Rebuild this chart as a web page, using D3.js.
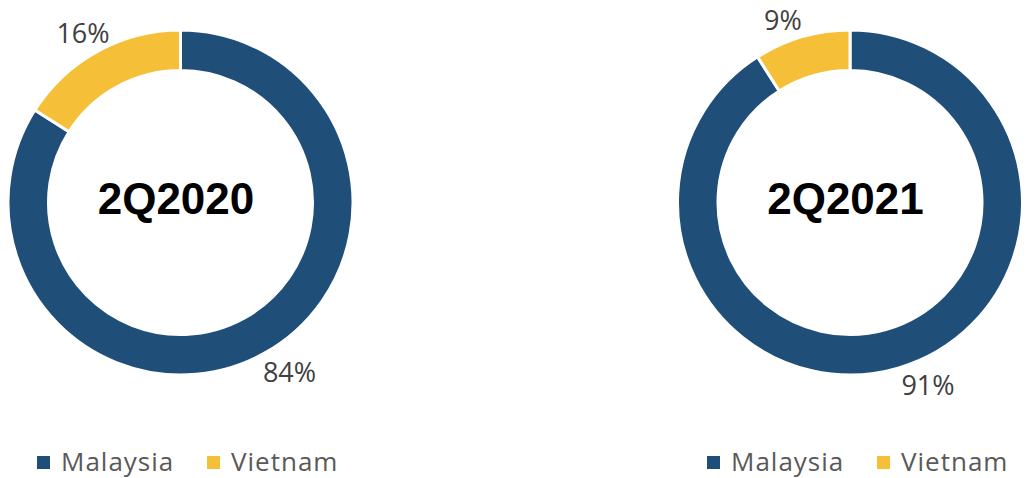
<!DOCTYPE html>
<html><head><meta charset="utf-8">
<script src="https://cdn.jsdelivr.net/npm/d3@7"></script>
<style>body{margin:0;background:#fff}svg{display:block}</style>
</head><body>
<svg id="c" width="1026" height="478"></svg>
<script>
const categories = ["Malaysia", "Vietnam"];
const periods = ["2Q2020", "2Q2021"];
const values2020 = [84, 16];
const values2021 = [91, 9];
const colors = ["#1F4E79", "#F6BF38"];

const svg = d3.select("#c");
const color = d3.scaleOrdinal().domain(categories).range(colors);
const pie = d3.pie().sort(null).value(d => d.v);
const arc = d3.arc().innerRadius(132).outerRadius(172.5);

const charts = [
  {title: periods[0], values: values2020, cx: 180.5, cy: 202.5, tx: 176,
   labels: [[289.5, 371.5], [83, 32]], legendX: 37},
  {title: periods[1], values: values2021, cx: 850, cy: 202.5, tx: 845.5,
   labels: [[928, 384.5], [783, 19.5]], legendX: 707}
];

charts.forEach(c => {
  const g = svg.append("g").attr("transform", `translate(${c.cx},${c.cy})`);
  const data = pie(categories.map((k, i) => ({k, v: c.values[i]})));
  g.selectAll("path").data(data).join("path")
    .attr("d", arc).attr("fill", d => color(d.data.k))
    .attr("stroke", "#fff").attr("stroke-width", 3);
  svg.append("text").attr("x", c.tx).attr("y", 214)
    .attr("text-anchor", "middle")
    .style("font-family", "Liberation Sans, Arial, sans-serif")
    .style("font-weight", "bold").style("font-size", "44px").attr("fill", "#000")
    .text(c.title);
  data.forEach((d, i) => {
    svg.append("text").attr("x", c.labels[i][0]).attr("y", c.labels[i][1])
      .attr("text-anchor", "middle").attr("dominant-baseline", "central")
      .style("font-family", "Open Sans, sans-serif").style("font-size", "27px")
      .attr("fill", "#404040").text(d.data.v + "%");
  });
  const lg = svg.append("g").attr("transform", `translate(${c.legendX},0)`);
  const offs = [0, 170];
  categories.forEach((k, i) => {
    lg.append("rect").attr("x", offs[i]).attr("y", 456).attr("width", 13).attr("height", 13)
      .attr("fill", color(k));
    lg.append("text").attr("x", offs[i] + 24).attr("y", 471)
      .style("font-family", "Open Sans, sans-serif").style("font-size", "26px")
      .style("letter-spacing", "1px")
      .attr("fill", "#595959").text(k);
  });
});
</script>
</body></html>
